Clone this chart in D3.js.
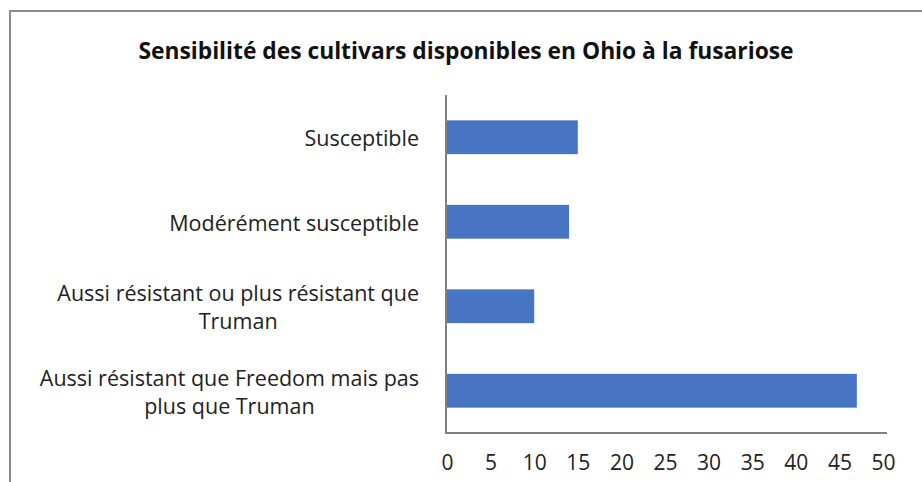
<!DOCTYPE html>
<html><head><meta charset="utf-8">
<script src="https://cdn.jsdelivr.net/npm/d3@7"></script>
<style>body{margin:0;background:#fff}</style>
</head><body><svg id="c" width="922" height="482"></svg>
<script>
const title = "Sensibilité des cultivars disponibles en Ohio à la fusariose";
const categories = ["Susceptible", "Modérément susceptible", "Aussi résistant ou plus résistant que Truman", "Aussi résistant que Freedom mais pas plus que Truman"];
const categoryLines = [["Susceptible"], ["Modérément susceptible"], ["Aussi résistant ou plus résistant que", "Truman"], ["Aussi résistant que Freedom mais pas", "plus que Truman"]];
const values = [15, 14, 10, 47];
const xTicks = [0, 5, 10, 15, 20, 25, 30, 35, 40, 45, 50];

const svg = d3.select("#c");
const font = "'Open Sans', sans-serif";

// frame
svg.append("path").attr("d", "M10,490 L10,11 L930,11")
  .attr("fill", "none").attr("stroke", "#8c8c8c").attr("stroke-width", 2);

const x = d3.scaleLinear().domain([0, 50]).range([447, 883]);
const y = d3.scaleBand().domain(categories).range([95, 433]).paddingInner(0.6).paddingOuter(0.3);

svg.append("text").attr("x", 466).attr("y", 59).attr("text-anchor", "middle")
  .attr("font-family", font).attr("font-weight", "bold").attr("font-size", 22.8)
  .attr("fill", "#111").text(title);

svg.append("g").selectAll("rect").data(values).join("rect")
  .attr("x", x(0)).attr("y", (d, i) => y(categories[i]))
  .attr("width", d => x(d) - x(0)).attr("height", y.bandwidth())
  .attr("fill", "#4874c4");

// axes
const xa = svg.append("g").attr("transform", "translate(0,433)")
  .call(d3.axisBottom(x).tickValues(xTicks).tickSize(0).tickPadding(22).tickFormat(d3.format("d")));
xa.select(".domain").remove();
xa.selectAll("text").attr("font-family", font).attr("font-size", 21).attr("fill", "#222");

const ya = svg.append("g").attr("transform", "translate(446,0)")
  .call(d3.axisLeft(y).tickSize(0).tickFormat(""));
ya.select(".domain").remove();

svg.append("line").attr("x1", 446).attr("x2", 446).attr("y1", 95).attr("y2", 434)
  .attr("stroke", "#7f7f7f").attr("stroke-width", 2);
svg.append("line").attr("x1", 445).attr("x2", 887).attr("y1", 433).attr("y2", 433)
  .attr("stroke", "#7f7f7f").attr("stroke-width", 2);

// category labels: block right-aligned at 419, lines centred within block
const rightEdge = 419;
const lh = 28;
categories.forEach((c, i) => {
  const lines = categoryLines[i];
  const cy = y(c) + y.bandwidth() / 2;
  const g = svg.append("g");
  const texts = lines.map((l, k) => g.append("text")
    .attr("font-family", font).attr("font-size", 21.5).attr("fill", "#222")
    .attr("text-anchor", "middle")
    .attr("y", lines.length > 1 ? cy - 5 + k * lh : cy + 9)
    .text(l));
  const w = d3.max(texts, t => t.node().getComputedTextLength());
  texts.forEach(t => t.attr("x", rightEdge - w / 2));
});
</script></body></html>
